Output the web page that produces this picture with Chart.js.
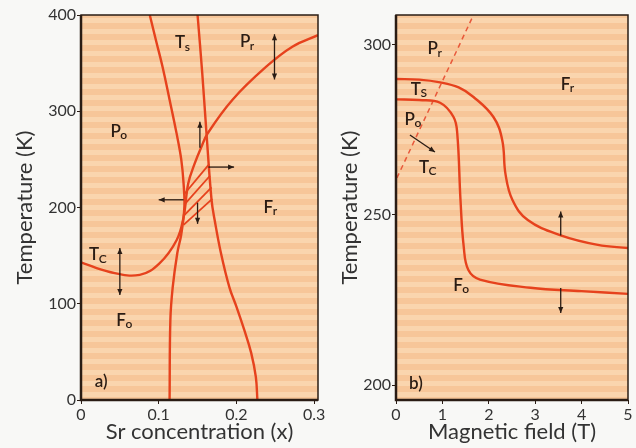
<!DOCTYPE html>
<html>
<head>
<meta charset="utf-8">
<script src="https://cdn.jsdelivr.net/npm/chart.js@4.4.1/dist/chart.umd.min.js"></script>
<style>
    html, body { margin: 0; padding: 0; background: #f8f8f6; }
    #wrap { position: relative; width: 636px; height: 448px; }
    .panel { position: absolute; top: 0; height: 448px; }
    #panelA { left: 0; width: 330px; }
    #panelB { left: 330px; width: 306px; }
</style>
</head>
<body>
<div id="wrap">
    <div class="panel" id="panelA"><canvas id="chartA" width="330" height="448"></canvas></div>
    <div class="panel" id="panelB"><canvas id="chartB" width="306" height="448"></canvas></div>
</div>
<script>
// ---- a) Sr concentration vs temperature ----
const srTicks = [0, 0.1, 0.2, 0.3];
const tempTicksA = [0, 100, 200, 300, 400];

// left structural boundary (Ts)
const tsLeftX = [0.0885, 0.097, 0.105, 0.114, 0.123, 0.129, 0.132, 0.133, 0.129, 0.124, 0.118, 0.115, 0.114];
const tsLeftT = [400, 372, 346, 312, 277, 250, 225, 200, 172, 153, 117, 83, 0];
// right structural boundary (Ts)
const tsRightX = [0.150, 0.156, 0.1615, 0.168, 0.172, 0.180, 0.191, 0.200, 0.210, 0.219, 0.225, 0.227];
const tsRightT = [400, 340, 277, 208, 187, 153, 117, 97, 73, 49, 24, 0];
// Curie temperature line (Tc)
const tcX = [0, 0.037, 0.0756, 0.101, 0.123, 0.132, 0.138, 0.146, 0.155, 0.163, 0.195, 0.238, 0.272, 0.305];
const tcT = [143, 133, 130, 142, 166, 190, 225, 245, 263, 277, 312, 346, 367, 379];
// hatched two-phase region, one line per stroke
const hatchX1 = [0.133, 0.133, 0.133, 0.132];
const hatchT1 = [214, 203, 192, 182];
const hatchX2 = [0.165, 0.166, 0.168, 0.169];
const hatchT2 = [245, 233, 221, 209];

// arrows: [x1, T1, x2, T2, both ends?]
const arrowsA = [
    [0.249, 333, 0.249, 380, true],
    [0.153, 262, 0.153, 289, false],
    [0.164, 242, 0.197, 242, false],
    [0.132, 208, 0.100, 208, false],
    [0.150, 205, 0.150, 183, false],
    [0.050, 109, 0.050, 158, true]
];
// labels: [text, subscript, x, T]
const labelsA = [
    ['T', 's', 0.131, 371],
    ['P', 'r', 0.214, 372],
    ['P', 'o', 0.049, 279],
    ['F', 'r', 0.244, 200],
    ['T', 'C', 0.022, 151],
    ['F', 'o', 0.056, 83],
    ['a)', '', 0.026, 19]
];

// ---- b) magnetic field vs temperature ----
const fieldTicks = [0, 1, 2, 3, 4, 5];
const tempTicksB = [200, 250, 300];

const tsFieldX = [0, 0.5, 0.95, 1.35, 1.67, 2.1, 2.29, 2.36, 2.51, 2.84, 3.55, 4.35, 5.0];
const tsFieldT = [290, 289.8, 289, 287.5, 284.7, 278.8, 272, 262, 254.4, 248.5, 244, 241.2, 240.3];
const tcFieldX = [0, 0.5, 0.95, 1.24, 1.32, 1.39, 1.46, 1.56, 1.81, 2.9, 4.0, 5.0];
const tcFieldT = [284, 283.8, 283, 278.8, 274, 254.4, 240.6, 233.8, 231, 228.6, 227.6, 226.8];
// dashed Tc line of the orthorhombic phase
const dashX = [0.02, 1.67];
const dashT = [260.9, 308.8];

const arrowsB = [
    [3.55, 244, 3.55, 251, false],
    [3.55, 228.5, 3.55, 221.2, false],
    [0.30, 273.5, 0.84, 268.5, false]
];
const labelsB = [
    ['P', 'r', 0.84, 298.8],
    ['F', 'r', 3.70, 288.5],
    ['T', 'S', 0.50, 287],
    ['P', 'o', 0.37, 278.2],
    ['T', 'C', 0.69, 264],
    ['F', 'o', 1.41, 229.4],
    ['b)', '', 0.43, 200.3]
];

const RED = '#e6421d';
const INK = '#2a1c14';
const GREY = '#333333';
const FONT = 'Lato, "DejaVu Sans", sans-serif';

function zip(xs, ys) {
    return xs.map(function(x, i) { return { x: x, y: ys[i] }; });
}

function curve(xs, ys, extra) {
    return Object.assign({
        data: zip(xs, ys),
        showLine: true,
        borderColor: RED,
        borderWidth: 2.4,
        pointRadius: 0,
        tension: 0.4,
        fill: false
    }, extra || {});
}

// striped peach background and the frame round the plot
const panelPlugin = {
    id: 'panel',
    beforeDatasetsDraw: function(chart) {
        const a = chart.chartArea;
        const ctx = chart.ctx;
        ctx.save();
        ctx.fillStyle = '#f7c699';
        ctx.fillRect(a.left, a.top, a.right - a.left, a.bottom - a.top);
        ctx.fillStyle = '#fad5ae';
        for (let y = a.top + 3; y < a.bottom; y += 11) {
            ctx.fillRect(a.left, y, a.right - a.left, Math.min(5, a.bottom - y));
        }
        ctx.restore();
    },
    afterDraw: function(chart) {
        const a = chart.chartArea;
        const ctx = chart.ctx;
        ctx.save();
        ctx.strokeStyle = INK;
        ctx.lineWidth = 1.5;
        ctx.strokeRect(a.left, a.top, a.right - a.left, a.bottom - a.top);
        ctx.lineWidth = 2.5;
        ctx.beginPath();
        ctx.moveTo(a.left, a.top);
        ctx.lineTo(a.left, a.bottom);
        ctx.lineTo(a.right, a.bottom);
        ctx.stroke();
        ctx.restore();
    }
};

// arrows and phase labels, placed through the chart scales
const notesPlugin = {
    id: 'notes',
    afterDatasetsDraw: function(chart, args, opts) {
        const sx = chart.scales.x;
        const sy = chart.scales.y;
        const ctx = chart.ctx;
        ctx.save();
        ctx.strokeStyle = INK;
        ctx.fillStyle = INK;
        ctx.lineWidth = 1.3;
        (opts.arrows || []).forEach(function(ar) {
            const x1 = sx.getPixelForValue(ar[0]), y1 = sy.getPixelForValue(ar[1]);
            const x2 = sx.getPixelForValue(ar[2]), y2 = sy.getPixelForValue(ar[3]);
            ctx.beginPath();
            ctx.moveTo(x1, y1);
            ctx.lineTo(x2, y2);
            ctx.stroke();
            head(ctx, x1, y1, x2, y2);
            if (ar[4]) head(ctx, x2, y2, x1, y1);
        });
        (opts.labels || []).forEach(function(lb) {
            const x = sx.getPixelForValue(lb[2]);
            const y = sy.getPixelForValue(lb[3]);
            ctx.font = '600 17px ' + FONT;
            const w1 = ctx.measureText(lb[0]).width;
            ctx.font = '600 12px ' + FONT;
            const w2 = lb[1] ? ctx.measureText(lb[1]).width : 0;
            const left = x - (w1 + w2) / 2;
            ctx.textBaseline = 'middle';
            ctx.textAlign = 'left';
            ctx.font = '600 17px ' + FONT;
            ctx.fillText(lb[0], left, y);
            if (lb[1]) {
                ctx.font = '600 12px ' + FONT;
                ctx.fillText(lb[1], left + w1 - 0.5, y + 4);
            }
        });
        ctx.restore();
    }
};

function head(ctx, x1, y1, x2, y2) {
    const ang = Math.atan2(y2 - y1, x2 - x1);
    const len = 6, half = 2.6;
    ctx.beginPath();
    ctx.moveTo(x2, y2);
    ctx.lineTo(x2 - len * Math.cos(ang) + half * Math.sin(ang), y2 - len * Math.sin(ang) - half * Math.cos(ang));
    ctx.lineTo(x2 - len * Math.cos(ang) - half * Math.sin(ang), y2 - len * Math.sin(ang) + half * Math.cos(ang));
    ctx.closePath();
    ctx.fill();
}

function axes(xMin, xMax, xTicks, xTitle, yMin, yMax, yTicks, yWidth, yTitlePad, fmt) {
    const tickFont = { family: FONT, size: 16 };
    const titleFont = { family: FONT, size: 22 };
    return {
        x: {
            type: 'linear', min: xMin, max: xMax,
            afterBuildTicks: function(s) { s.ticks = xTicks.map(function(v) { return { value: v }; }); },
            afterFit: function(s) { s.height = 48; },
            grid: { display: true, drawOnChartArea: false, tickLength: 4, color: INK, lineWidth: 1 },
            border: { display: false },
            ticks: { color: GREY, font: tickFont, padding: 1, maxRotation: 0, autoSkip: false, callback: fmt },
            title: { display: true, text: xTitle, color: GREY, font: titleFont, padding: { top: 0, bottom: 3 } }
        },
        y: {
            type: 'linear', min: yMin, max: yMax,
            afterBuildTicks: function(s) { s.ticks = yTicks.map(function(v) { return { value: v }; }); },
            afterFit: function(s) { s.width = yWidth; },
            grid: { display: true, drawOnChartArea: false, tickLength: 4, color: INK, lineWidth: 1 },
            border: { display: false },
            ticks: { color: GREY, font: tickFont, padding: 1, autoSkip: false },
            title: { display: true, text: 'Temperature (K)', color: GREY, font: titleFont, padding: { top: yTitlePad, bottom: 0 } }
        }
    };
}

const baseOptions = {
    responsive: false,
    animation: false,
    plugins: { legend: { display: false }, tooltip: { enabled: false } }
};

function initPanelA() {
    const ctx = document.getElementById('chartA');
    const datasets = [
        curve(tsLeftX, tsLeftT),
        curve(tsRightX, tsRightT),
        curve(tcX, tcT)
    ];
    hatchX1.forEach(function(x, i) {
        datasets.push(curve([x, hatchX2[i]], [hatchT1[i], hatchT2[i]], { tension: 0, borderWidth: 1.8 }));
    });
    new Chart(ctx, {
        type: 'scatter',
        data: { datasets: datasets },
        options: Object.assign({}, baseOptions, {
            layout: { padding: { top: 15, right: 12, left: 0, bottom: 0 } },
            scales: axes(0, 0.305, srTicks, 'Sr concentration (x)', 0, 400, tempTicksA, 81, 12,
                function(v) { return v === 0 ? '0' : v.toFixed(1); }),
            plugins: Object.assign({}, baseOptions.plugins, { notes: { arrows: arrowsA, labels: labelsA } })
        }),
        plugins: [panelPlugin, notesPlugin]
    });
}

function initPanelB() {
    const ctx = document.getElementById('chartB');
    new Chart(ctx, {
        type: 'scatter',
        data: {
            datasets: [
                curve(tsFieldX, tsFieldT),
                curve(tcFieldX, tcFieldT),
                curve(dashX, dashT, { tension: 0, borderWidth: 1.5, borderDash: [5, 4], borderColor: '#e8583a' })
            ]
        },
        options: Object.assign({}, baseOptions, {
            layout: { padding: { top: 15, right: 8, left: 0, bottom: 0 } },
            scales: axes(0, 5, fieldTicks, 'Magnetic field (T)', 195.6, 308.8, tempTicksB, 66, 7,
                function(v) { return String(v); }),
            plugins: Object.assign({}, baseOptions.plugins, { notes: { arrows: arrowsB, labels: labelsB } })
        }),
        plugins: [panelPlugin, notesPlugin]
    });
}

initPanelA();
initPanelB();
</script>
</body>
</html>
